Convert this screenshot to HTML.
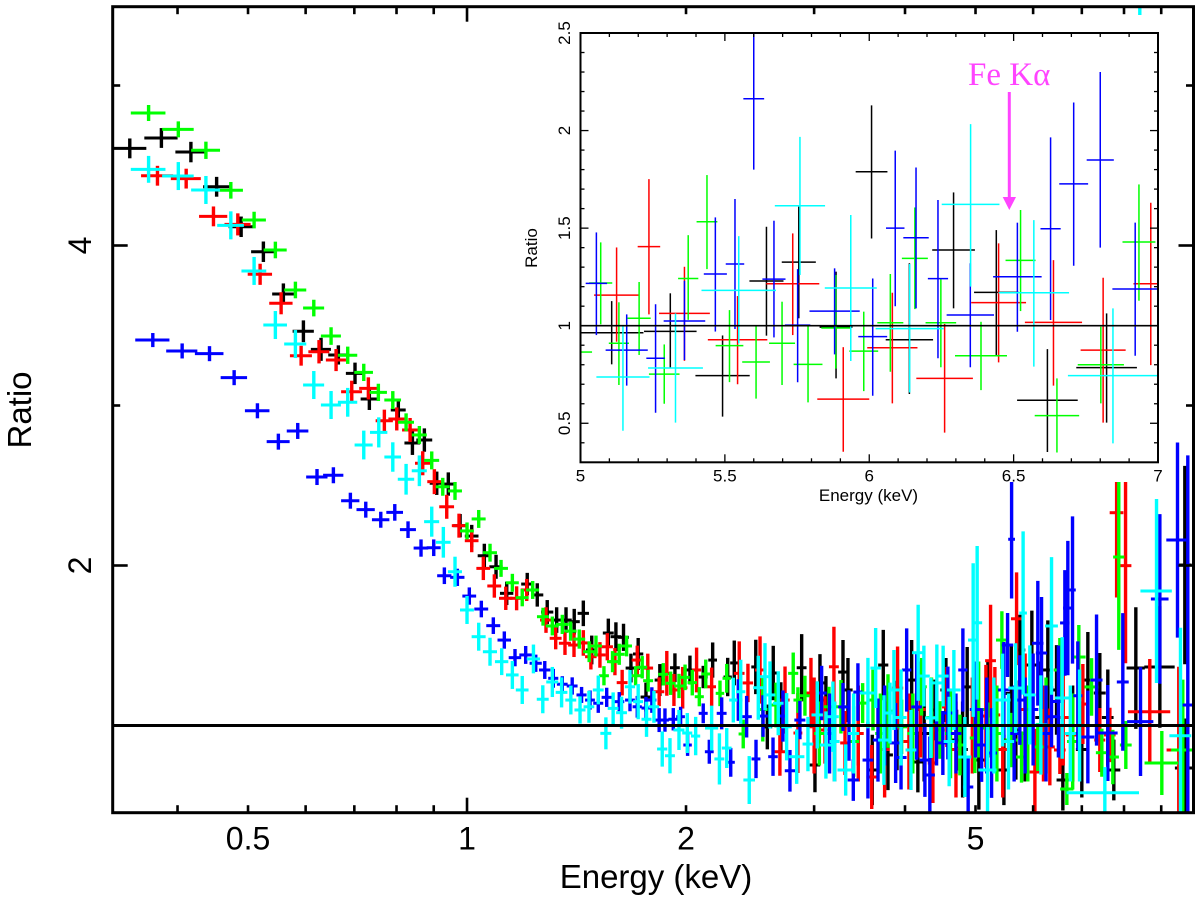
<!DOCTYPE html>
<html lang="en">
<head>
<meta charset="utf-8">
<title>Ratio vs Energy X-ray spectrum</title>
<style>
html,body{margin:0;padding:0;background:#fff;width:1200px;height:901px;overflow:hidden}
svg{display:block}
text{font-family:"Liberation Sans",sans-serif;fill:#000}
</style>
</head>
<body>
<svg id="chart" xmlns="http://www.w3.org/2000/svg" width="1200" height="901" viewBox="0 0 1200 901">
<rect x="0" y="0" width="1200" height="901" fill="#fff"/>
<defs>
<clipPath id="mainClip"><rect x="112.7" y="6.7" width="1080.8" height="806"/></clipPath>
<clipPath id="insetClip"><rect x="580.5" y="33" width="577.5" height="429.3"/></clipPath>
</defs>
<g id="mainData" clip-path="url(#mainClip)"></g>
<line id="mainUnity" stroke="#000" stroke-width="3"/>
<rect x="520" y="15" width="648" height="467" fill="#fff"/>
<g id="mainAxes"></g>
<g id="insetData" clip-path="url(#insetClip)"></g>
<line id="insetUnity" stroke="#000" stroke-width="1.7"/>
<g id="insetAxes"></g>
<text x="656" y="888" font-size="33" text-anchor="middle">Energy (keV)</text>
<text transform="translate(31,410) rotate(-90)" font-size="33" text-anchor="middle">Ratio</text>
<text x="868.5" y="501" font-size="17" text-anchor="middle">Energy (keV)</text>
<text transform="translate(537,248) rotate(-90)" font-size="17" text-anchor="middle">Ratio</text>
<text x="968" y="85" font-size="33" style="font-family:'Liberation Serif',serif;fill:#ff44ff">Fe Kα</text>
<line x1="1009.3" y1="92" x2="1009.3" y2="199" stroke="#ff44ff" stroke-width="3"/>
<polygon points="1002.7,197 1016,197 1009.3,210" fill="#ff44ff"/>
</svg>
<script>
// Main spectrum rows: [energy keV, energy half-width keV, ratio, ratio half-error]
const blackPoints = [
[.3439,.0185,4.607,.062],[.3801,.02,4.672,.062],[.4173,.02,4.584,.064],[.4527,.019,4.367,.062],[.4892,.019,4.117,.064],[.5249,.02,3.961,.064],[.5592,.0195,3.697,.066],[.5958,.02,3.464,.068],[.63,.02,3.351,.072],[.6655,.021,3.316,.06],
[.7015,.02,3.201,.067],[.7341,.02,3.041,.069],[.8046,.019,2.972,.066],[.8413,.021,2.766,.075],[.8737,.022,2.784,.073],[.9086,.02,2.514,.073],[.9425,.02,2.509,.073],[.9783,.021,2.249,.073],[1.015,.022,2.184,.07],[1.0563,.022,2.061,.075],
[1.0962,.023,1.992,.075],[1.1339,.024,1.826,.073],[1.21,.023,1.884,.07],[1.249,.024,1.816,.073],[1.289,.025,1.709,.075],[1.328,.025,1.659,.08],[1.368,.025,1.659,.08],[1.404,.025,1.649,.08],[1.445,.026,1.701,.08],[1.484,.027,1.472,.09],
[1.564,.027,1.578,.09],[1.602,.027,1.555,.09],[1.641,.028,1.551,.085],[1.68,.028,1.359,.09],[1.719,.028,1.447,.1],[1.762,.03,1.178,.09],[1.841,.03,1.284,.1],[1.931,.03,1.361,.09],[2.025,.03,1.347,.09],[2.112,.03,1.303,.07],
[2.176,.03,1.409,.11],[2.282,.03,1.303,.12],[2.33,.03,1.391,.14],[2.494,.035,1.366,.17],[2.587,.04,.991,.14],[2.636,.04,1.328,.17],[2.884,.045,1.361,.21],[3.008,.05,.753,.17],[3.056,.05,1.266,.18],[3.114,.05,1.159,.15],
[3.287,.05,1.334,.2],[3.339,.05,1.222,.2],[3.606,.06,.722,.22],[3.734,.06,1.378,.22],[3.79,.06,.816,.22],[4.085,.07,1.284,.25],[4.166,.07,.772,.19],[4.397,.07,1.097,.19],[4.553,.08,1.222,.2],[4.709,.08,.909,.19],
[4.87,.08,1.241,.25],[5.053,.09,.784,.31],[5.47,.1,.722,.22],[5.681,.1,.972,.31],[5.753,.1,1.472,.22],[5.976,.1,1.378,.34],[6.286,.11,1.347,.31],[6.462,.11,1.222,.28],[6.592,.13,.659,.19],[7.135,.13,1.284,.3],
[7.41,.14,1.203,.25],[7.746,.16,.722,.19],[8.305,.24,1.359,.38],[8.961,.43,1.366,.38],[9.698,.21,2.003,.62],[9.698,.3,.734,.31],
[2.7,.045,1.05,.22],[3.2,.05,.9,.25],[3.45,.06,1,.25],[3.9,.07,1,.28],[4.25,.07,.95,.3],[4.8,.08,.85,.3],[5.2,.09,1.1,.3],[5.6,.1,1.2,.3],[5.85,.1,.95,.3],[6.15,.11,1.05,.35],[6.8,.12,.95,.3],[7,.13,.85,.3],[7.6,.14,1.05,.3]
];
const redPoints = [
[.3754,.019,4.436,.062],[.4111,.0195,4.418,.062],[.4482,.02,4.182,.062],[.4841,.02,4.132,.069],[.5195,.02,3.82,.066],[.5552,.0205,3.639,.069],[.5915,.0206,3.311,.062],[.626,.0208,3.336,.073],[.6607,.021,3.284,.069],[.6943,.023,3.086,.069],
[.7318,.021,3.107,.069],[.7698,.021,2.905,.069],[.8006,.021,2.916,.072],[.8351,.021,2.847,.075],[.8692,.021,2.639,.075],[.9018,.02,2.524,.078],[.9378,.022,2.367,.075],[.975,.022,2.249,.075],[1.015,.022,2.155,.072],[1.053,.023,1.982,.073],
[1.0903,.024,1.872,.073],[1.1305,.024,1.795,.073],[1.17,.025,1.795,.075],[1.208,.023,1.847,.069],[1.284,.024,1.659,.08],[1.324,.025,1.545,.069],[1.3635,.026,1.514,.073],[1.403,.026,1.503,.075],[1.445,.027,1.516,.08],[1.48,.027,1.43,.08],
[1.523,.028,1.441,.08],[1.559,.028,1.492,.085],[1.597,.028,1.399,.085],[1.634,.028,1.268,.08],[1.714,.03,1.409,.09],[1.772,.03,1.359,.09],[1.837,.03,1.211,.09],[1.882,.03,1.326,.14],[1.925,.03,1.222,.1],[1.979,.03,1.236,.13],
[2.068,.03,1.347,.14],[2.169,.03,1.242,.12],[2.367,.04,1.326,.2],[2.433,.04,1.266,.12],[2.528,.04,1.347,.21],[2.692,.045,.836,.15],[2.736,.04,1.159,.21],[2.85,.04,.953,.25],[2.97,.05,1.203,.22],[3.105,.05,.972,.21],
[3.194,.05,1.367,.25],[3.308,.05,.891,.2],[3.6,.06,.678,.2],[3.907,.07,1.234,.26],[4.369,.07,.766,.25],[4.567,.07,1.116,.25],[5.167,.09,1.059,.32],[5.244,.09,1.405,.35],[5.316,.09,1.066,.3],[5.694,.1,1.667,.29],
[6.034,.1,.709,.27],[6.326,.1,.866,.24],[6.53,.12,.847,.15],[6.776,.12,.941,.24],[7.023,.13,1.134,.25],[7.41,.13,.909,.2],[7.65,.14,.941,.17],[7.815,.17,2.33,.53],[8.039,.15,1.999,.61],[8.68,.58,1.086,.33],
[9.514,.36,.847,.52],
[3,.05,1,.3],[3.45,.06,.95,.3],[3.75,.06,.85,.3],[4.05,.07,.9,.3],[4.2,.07,1.1,.3],[4.7,.08,.85,.3],[4.95,.09,1,.3],[5.45,.1,.85,.3],[5.85,.1,1.1,.35],[6.2,.11,.95,.3],[6.6,.12,1.05,.3]
];
const greenPoints = [
[.365,.02,4.828,.05],[.401,.02,4.726,.05],[.4376,.02,4.595,.054],[.4735,.0185,4.345,.052],[.5097,.0194,4.159,.052],[.5452,.0199,3.972,.052],[.5809,.0203,3.722,.052],[.6157,.0205,3.609,.052],[.6503,.0206,3.434,.055],[.6855,.021,3.314,.054],
[.7212,.0213,3.207,.054],[.7553,.0208,3.082,.054],[.7906,.0209,3.034,.056],[.8246,.0209,2.895,.056],[.86,.0205,2.816,.056],[.8943,.0213,2.657,.056],[.9261,.0206,2.492,.056],[.9627,.0214,2.466,.056],[1.0,.022,2.216,.053],[1.0377,.023,2.291,.056],
[1.0755,.0239,2.08,.056],[1.1137,.0247,1.982,.053],[1.1543,.0238,1.892,.056],[1.191,.0245,1.799,.054],[1.231,.0254,1.847,.056],[1.272,.0242,1.68,.056],[1.31,.027,1.622,.059],[1.352,.0279,1.632,.06],[1.388,.0264,1.59,.06],[1.4265,.027,1.54,.06],
[1.472,.028,1.461,.065],[1.504,.0286,1.497,.065],[1.5425,.0244,1.311,.06],[1.585,.0276,1.399,.066],[1.619,.0282,1.445,.066],[1.657,.0286,1.497,.065],[1.705,.027,1.311,.06],[1.741,.0276,1.364,.07],[1.774,.028,1.28,.068],[1.861,.03,1.32,.07],
[1.905,.03,1.264,.073],[1.956,.03,1.247,.076],[1.994,.03,1.301,.08],[2.04,.03,1.268,.08],[2.086,.03,1.18,.06],[2.129,.03,1.322,.09],[2.227,.03,1.201,.08],[2.275,.03,1.295,.09],[2.397,.035,.947,.09],[2.659,.05,1.128,.14],
[2.808,.045,1.326,.13],[2.85,.04,1.159,.08],[2.914,.045,1.186,.125],[3.144,.05,1.117,.125],[3.266,.05,1.117,.167],[3.498,.06,1.14,.125],[3.614,.06,1.159,.19],[3.79,.06,1.09,.23],[3.957,.07,.992,.17],[4.215,.07,1.242,.18],
[4.467,.07,.972,.18],[4.759,.08,.878,.19],[4.99,.08,.922,.22],[5.2,.09,.984,.16],[5.435,.1,1.534,.18],[5.605,.11,.909,.17],[5.784,.1,.803,.16],[6.09,.11,.866,.15],[6.53,.12,1.347,.2],[6.676,.14,.603,.1],
[6.934,.15,1.428,.2],[7.219,.16,1.241,.18],[7.458,.14,.83,.15],[7.722,.15,.803,.17],[7.869,.14,2.053,.58],[8.046,.15,.878,.15],[9.017,.48,.766,.2],[9.636,.35,.847,.44],
[2.55,.04,1.1,.2],[3.05,.05,.95,.2],[3.4,.06,.9,.22],[3.7,.06,.95,.25],[4.1,.07,.95,.25],[4.35,.07,1.05,.25],[4.62,.08,.95,.28],[5.05,.09,1.1,.3],[5.35,.09,.95,.3],[5.9,.1,.95,.3],[6.25,.11,1,.3],[6.8,.12,.9,.3]
];
const bluePoints = [
[.3699,.02,3.409,.044],[.4059,.02,3.341,.047],[.4426,.02,3.324,.047],[.4785,.02,3.174,.047],[.5151,.02,2.967,.047],[.5504,.02,2.774,.05],[.5852,.02,2.841,.05],[.622,.021,2.553,.05],[.6551,.021,2.564,.05],[.6913,.02,2.405,.05],
[.7258,.021,2.349,.05],[.7611,.021,2.286,.05],[.7956,.021,2.332,.052],[.8297,.021,2.224,.052],[.8645,.02,2.109,.054],[.9,.02,2.111,.052],[.9308,.021,1.936,.052],[.9699,.022,1.926,.054],[1.0073,.022,1.809,.054],[1.0463,.023,1.728,.052],
[1.0868,.024,1.624,.052],[1.1253,.024,1.534,.054],[1.164,.023,1.424,.054],[1.204,.024,1.441,.056],[1.243,.024,1.389,.054],[1.279,.023,1.347,.056],[1.314,.021,1.295,.059],[1.352,.023,1.258,.05],[1.395,.024,1.247,.054],[1.437,.023,1.191,.05],
[1.476,.023,1.159,.06],[1.515,.024,1.139,.06],[1.556,.025,1.176,.06],[1.619,.026,1.149,.06],[1.675,.026,1.159,.07],[1.714,.025,1.117,.068],[1.762,.025,1.109,.07],[1.795,.026,1.159,.08],[1.837,.027,1.034,.075],[1.871,.024,1.034,.073],
[1.921,.03,1.039,.07],[1.966,.027,1.055,.062],[2.01,.027,.878,.068],[2.112,.03,1.076,.062],[2.153,.03,.836,.075],[2.239,.035,1.076,.1],[2.304,.03,.77,.09],[2.36,.03,1.159,.13],[2.423,.04,1.055,.13],[2.496,.035,.791,.12],
[2.552,.04,1.059,.13],[2.634,.04,.805,.12],[2.718,.04,1.059,.16],[2.779,.045,.717,.13],[2.868,.05,1.034,.12],[3.072,.05,1.203,.17],[3.287,.05,1.116,.15],[3.396,.06,.659,.13],[3.446,.05,1.209,.18],[3.557,.06,.784,.24],
[3.672,.06,.909,.26],[3.883,.07,.891,.25],[4.021,.06,1.347,.26],[4.15,.07,1.116,.33],[4.26,.07,.784,.23],[4.327,.07,.691,.24],[4.509,.07,.891,.2],[4.581,.08,1.078,.29],[4.804,.07,1.347,.26],[4.885,.08,.616,.19],
[5.097,.09,.878,.23],[5.261,.09,.828,.28],[5.47,.1,1.222,.3],[5.534,.1,1.503,.2],[5.605,.06,2.164,.37],[5.753,.1,1.159,.28],[6.09,.11,1.514,.39],[6.162,.11,1.453,.35],[6.36,.12,1.055,.19],[6.634,.1,1.641,.33],
[6.697,.1,1.734,.42],[6.797,.07,1.847,.46],[6.912,.1,1.186,.34],[7.135,.15,.928,.29],[7.334,.14,1.284,.41],[7.6,.24,.953,.3],[7.97,.15,1.272,.43],[8.429,.35,1.024,.34],[8.961,.25,1.791,.53],[9.476,.33,2.159,.61],
[9.79,.16,1.128,1.56],
[3.15,.05,.95,.25],[3.35,.06,1,.22],[3.75,.06,1,.25],[3.95,.07,.8,.2],[4.42,.07,1,.25],[4.7,.08,.95,.25],[5,.09,1.1,.3],[5.18,.09,1,.3],[5.65,.1,.95,.3],[5.85,.1,1,.3],[6,.1,1.1,.35],[6.25,.11,.95,.3],[6.5,.12,1.15,.35]
];
const cyanPoints = [
[.365,.02,4.476,.084],[.401,.02,4.434,.0875],[.4376,.02,4.347,.0875],[.4735,.02,4.126,.0875],[.5097,.02,3.841,.0875],[.5452,.0204,3.503,.0875],[.5809,.0203,3.384,.0875],[.6157,.0205,3.128,.0875],[.6503,.0206,3.003,.0875],[.6855,.021,3.02,.09],
[.7212,.0206,2.753,.09],[.7563,.0208,2.832,.094],[.7906,.0208,2.678,.092],[.8246,.0214,2.539,.096],[.86,.0205,2.592,.096],[.8943,.0213,2.274,.094],[.9278,.0215,2.145,.096],[.9627,.0214,1.961,.094],[1.0,.022,1.722,.0875],[1.0377,.023,1.555,.0875],
[1.0755,.024,1.461,.0875],[1.116,.0236,1.399,.084],[1.1543,.023,1.316,.0875],[1.191,.024,1.222,.0875],[1.234,.026,1.416,.09],[1.271,.024,1.164,.0875],[1.31,.025,1.272,.094],[1.349,.025,1.207,.094],[1.389,.024,1.159,.09],[1.43,.025,1.097,.085],
[1.471,.025,1.117,.1],[1.515,.026,1.222,.09],[1.552,.027,.951,.1],[1.588,.027,1.107,.1],[1.631,.028,1.08,.1],[1.675,.027,1.242,.105],[1.719,.027,1.149,.11],[1.765,.028,1.039,.11],[1.807,.03,1.117,.1],[1.855,.03,.853,.11],
[1.901,.03,.811,.11],[1.956,.034,.972,.125],[2.008,.032,.953,.125],[2.062,.03,.934,.12],[2.169,.045,.984,.14],[2.223,.035,.791,.16],[2.275,.035,.859,.125],[2.323,.03,1.159,.14],[2.378,.035,1.211,.2],[2.443,.045,.659,.15],
[2.514,.04,1.236,.2],[2.568,.04,1.305,.21],[2.609,.045,1.191,.21],[2.678,.045,1.139,.2],[2.75,.045,.992,.21],[2.839,.07,.805,.17],[2.942,.05,.884,.17],[3.03,.055,1.066,.21],[3.114,.06,.878,.21],[3.184,.06,1.055,.22],
[3.315,.085,.722,.16],[3.557,.09,1.203,.22],[3.645,.06,1.359,.25],[3.742,.07,.909,.28],[3.814,.06,1.078,.19],[3.862,.07,1.222,.25],[4.076,.07,.847,.25],[4.17,.08,1.455,.3],[4.246,.08,1.309,.19],[4.341,.08,1.047,.25],
[4.424,.08,1.266,.24],[4.513,.08,1.309,.19],[4.669,.1,1.222,.25],[4.834,.1,.803,.25],[4.963,.08,1.534,.48],[5.026,.08,1.642,.48],[5.194,.15,.722,.275],[5.447,.14,1.159,.29],[5.676,.13,1.234,.28],[5.813,.07,1.703,.51],
[5.938,.11,1.191,.31],[6.149,.12,1.003,.31],[6.36,.13,1.622,.43],[6.578,.15,1.172,.38],[7.529,.86,.58,.16],[8.41,.1,4.284,1.2],[8.867,.44,1.841,.575],[9.566,.33,.936,.675],
[3.2,.05,.9,.25],[3.4,.06,.95,.25],[3.95,.07,1.05,.3],[4.6,.08,.9,.28],[5.3,.09,1,.3],[5.55,.1,.9,.3],[6.75,.12,.95,.3],[6.95,.13,1,.35]
];
// Inset rows: [energy keV, energy half-width keV, ratio, lower bound, upper bound]
const insetBlack = [
[5.108,.11,.964,.802,1.126],[5.311,.091,.971,.786,1.166],[5.492,.094,.744,.534,.95],[5.644,.059,1.229,.949,1.507],[5.756,.059,1.326,1.038,1.61],[5.885,.057,.993,.73,1.277],[6.008,.055,1.789,1.447,2.129],[6.139,.082,.928,.65,1.32],[6.292,.074,1.388,1.089,1.683],[6.44,.077,1.171,.85,1.49],[6.617,.105,.618,.353,.88],[6.822,.105,.785,.503,1.063]
];
const insetRed = [
[5.125,.078,1.157,.918,1.401],[5.237,.039,1.405,1.058,1.751],[5.36,.088,1.063,.82,1.302],[5.544,.103,.928,.7,1.152],[5.735,.092,1.215,.952,1.473],[5.91,.09,.624,.354,.89],[6.08,.087,.887,.602,1.169],[6.261,.098,.73,.452,1.009],[6.448,.095,1.118,.812,1.422],[6.638,.099,1.017,.693,1.336],[6.81,.078,.875,.503,1.246],[6.975,.06,1.215,.798,1.63]
];
const insetGreen = [
[5,.04,.865,.674,1.055],[5.07,.04,1.219,1.007,1.427],[5.133,.035,.91,.696,1.12],[5.203,.04,1.038,.85,1.224],[5.29,.053,.752,.6,.904],[5.373,.035,1.242,1.03,1.464],[5.438,.036,1.533,1.29,1.772],[5.516,.048,.898,.711,1.08],[5.608,.048,.814,.626,.998],[5.698,.045,.91,.696,1.123],[5.788,.05,.802,.607,1],[5.884,.05,.988,.78,1.26],
[5.981,.05,.87,.665,1.072],[6.073,.045,1.015,.764,1.265],[6.158,.045,1.345,1.085,1.606],[6.248,.053,1.015,.787,1.239],[6.387,.09,.846,.67,1.02],[6.524,.052,1.335,1.075,1.593],[6.65,.077,.539,.35,.73],[6.802,.08,.8,.602,.995],[6.934,.057,1.429,1.128,1.724]
];
const insetBlue = [
[5.055,.037,1.217,.952,1.478],[5.16,.073,.875,.693,1.058],[5.26,.032,.833,.554,1.11],[5.36,.072,1.024,.824,1.23],[5.467,.04,1.265,.97,1.555],[5.535,.032,1.316,.983,1.649],[5.6,.036,2.163,1.8,2.6],[5.67,.04,1.239,.94,1.538],[5.752,.044,1.003,.71,1.29],[5.88,.087,1.075,.853,1.294],
[6.012,.05,.944,.641,1.242],[6.09,.032,1.5,1.1,1.897],[6.162,.044,1.451,1.089,1.811],[6.238,.035,1.241,.833,1.644],[6.35,.082,1.055,.787,1.32],[6.513,.084,1.251,.969,1.528],[6.628,.035,1.497,1.029,1.965],[6.708,.05,1.727,1.307,2.144],[6.8,.047,1.849,1.4,2.3],[6.921,.079,1.188,.846,1.528]
];
const insetCyan = [
[5.147,.092,.737,.462,1.003],[5.329,.095,.783,.503,1.063],[5.548,.129,1.181,.91,1.459],[5.76,.087,1.615,1.26,1.968],[5.936,.09,1.193,.819,1.567],[6.14,.118,.985,.658,1.316],[6.351,.1,1.622,1.2,2.033],[6.57,.122,1.169,.79,1.541],[6.844,.156,.744,.397,1.089]
];
// Axis tick values
const mainXMajor = [1];
const mainXMinor = [.4,.5,.6,.7,.8,.9,2,3,4,5,6,7,8,9];
const mainXLabels = [.5,1,2,5];
const mainYMajor = [2,4];
const mainYMinor = [1,3,5];
const mainYLabels = [2,4];
const insetXMajor = [5,5.5,6,6.5,7];
const insetXLabels = [5,5.5,6,6.5,7];
const insetYMajor = [.5,1,1.5,2,2.5];
const insetYLabels = [.5,1,1.5,2,2.5];
const seriesColors = {black:'#000000',red:'#ff0000',green:'#00ff00',blue:'#0000ff',cyan:'#00ffff'};

const NS = 'http://www.w3.org/2000/svg';
const main = {l:112.7,r:1193.5,t:6.7,b:812.7,xMin:.3258,xMax:9.968,yMin:.455,yMax:5.4925};
const inset = {l:580.5,r:1158,t:33,b:462.3,xMin:5,xMax:7,yMin:.3,yMax:2.5};
const clamp = (v,lo,hi) => Math.max(lo,Math.min(hi,v));
const mainX = e => main.l + (Math.log10(e)-Math.log10(main.xMin))/(Math.log10(main.xMax)-Math.log10(main.xMin))*(main.r-main.l);
const mainY = v => main.b - (v-main.yMin)/(main.yMax-main.yMin)*(main.b-main.t);
const insetX = e => inset.l + (e-inset.xMin)/(inset.xMax-inset.xMin)*(inset.r-inset.l);
const insetY = v => inset.b - (v-inset.yMin)/(inset.yMax-inset.yMin)*(inset.b-inset.t);

function line(parent,x1,y1,x2,y2,color,w){
  const el = document.createElementNS(NS,'line');
  el.setAttribute('x1',x1);el.setAttribute('y1',y1);el.setAttribute('x2',x2);el.setAttribute('y2',y2);
  el.setAttribute('stroke',color);el.setAttribute('stroke-width',w);
  parent.appendChild(el);
  return el;
}
function drawMain(rows,color,name){
  const g = document.createElementNS(NS,'g');
  
  
  rows.forEach(r=>{
    const p = document.createElementNS(NS,'g');
    
    
    line(p,clamp(mainX(r[0]-r[1]),main.l,main.r),mainY(r[2]),clamp(mainX(r[0]+r[1]),main.l,main.r),mainY(r[2]),color,3);
    line(p,mainX(r[0]),clamp(mainY(r[2]+r[3]),main.t,main.b),mainX(r[0]),clamp(mainY(r[2]-r[3]),main.t,main.b),color,3.4);
    g.appendChild(p);
  });
  document.getElementById('mainData').appendChild(g);
}
function drawInset(rows,color,name){
  const g = document.createElementNS(NS,'g');
  
  
  rows.forEach(r=>{
    const p = document.createElementNS(NS,'g');
    
    
    line(p,clamp(insetX(r[0]-r[1]),inset.l,inset.r),insetY(r[2]),clamp(insetX(r[0]+r[1]),inset.l,inset.r),insetY(r[2]),color,1.5);
    line(p,insetX(r[0]),clamp(insetY(r[4]),inset.t,inset.b),insetX(r[0]),clamp(insetY(r[3]),inset.t,inset.b),color,1.5);
    g.appendChild(p);
  });
  document.getElementById('insetData').appendChild(g);
}
drawMain(blackPoints,seriesColors.black,'series-black');
drawMain(redPoints,seriesColors.red,'series-red');
drawMain(greenPoints,seriesColors.green,'series-green');
drawMain(bluePoints,seriesColors.blue,'series-blue');
drawMain(cyanPoints,seriesColors.cyan,'series-cyan');
drawInset(insetBlack,seriesColors.black,'inset-series-black');
drawInset(insetRed,seriesColors.red,'inset-series-red');
drawInset(insetGreen,seriesColors.green,'inset-series-green');
drawInset(insetBlue,seriesColors.blue,'inset-series-blue');
drawInset(insetCyan,seriesColors.cyan,'inset-series-cyan');

const mu = document.getElementById('mainUnity');
mu.setAttribute('x1',main.l);mu.setAttribute('x2',main.r);mu.setAttribute('y1',mainY(1));mu.setAttribute('y2',mainY(1));
const iu = document.getElementById('insetUnity');
iu.setAttribute('x1',inset.l);iu.setAttribute('x2',inset.r);iu.setAttribute('y1',insetY(1));iu.setAttribute('y2',insetY(1));

function frame(parent,b,w,name){
  const el = document.createElementNS(NS,'rect');
  el.setAttribute('x',b.l);el.setAttribute('y',b.t);el.setAttribute('width',b.r-b.l);el.setAttribute('height',b.b-b.t);
  el.setAttribute('fill','none');el.setAttribute('stroke','#000');el.setAttribute('stroke-width',w);
  
  
  parent.appendChild(el);
}
function label(parent,txt,x,y,size,anchor,rot,name){
  const el = document.createElementNS(NS,'text');
  el.textContent = txt;
  el.setAttribute('font-size',size);
  el.setAttribute('text-anchor',anchor);
  if(rot){el.setAttribute('transform','translate('+x+','+y+') rotate(-90)');}
  else{el.setAttribute('x',x);el.setAttribute('y',y);}
  
  
  parent.appendChild(el);
}
// main axes
const ma = document.getElementById('mainAxes');
frame(ma,main,3,'main-plot-frame');
mainXMajor.forEach(v=>{const x=mainX(v);line(ma,x,main.b,x,main.b-15,'#000',2.6);line(ma,x,main.t,x,main.t+15,'#000',2.6);});
mainXMinor.forEach(v=>{const x=mainX(v);line(ma,x,main.b,x,main.b-7.5,'#000',2.6);line(ma,x,main.t,x,main.t+7.5,'#000',2.6);});
mainYMajor.forEach(v=>{const y=mainY(v);line(ma,main.l,y,main.l+15,y,'#000',2.6);line(ma,main.r,y,main.r-15,y,'#000',2.6);});
mainYMinor.forEach(v=>{const y=mainY(v);line(ma,main.l,y,main.l+7.5,y,'#000',2.6);line(ma,main.r,y,main.r-7.5,y,'#000',2.6);});
mainXLabels.forEach(v=>label(ma,String(v),mainX(v),849.3,32,'middle',false,'x-tick-label'));
mainYLabels.forEach(v=>label(ma,String(v),91,mainY(v),32,'middle',true,'y-tick-label'));
// inset axes
const ia = document.getElementById('insetAxes');
frame(ia,inset,2,'inset-plot-frame');
for(let i=0;i<=20;i++){
  const v = inset.xMin + i*.1;
  const len = (i%5===0)?8:4;
  const x = insetX(v);
  line(ia,x,inset.b,x,inset.b-len,'#000',1.3);
  line(ia,x,inset.t,x,inset.t+len,'#000',1.3);
}
for(let i=0;i<=22;i++){
  const v = inset.yMin + i*.1;
  const y = insetY(v);
  const major = insetYMajor.some(m=>Math.abs(m-v)<.001);
  const len = major?8:4;
  line(ia,inset.l,y,inset.l+len,y,'#000',1.3);
  line(ia,inset.r,y,inset.r-len,y,'#000',1.3);
}
insetXLabels.forEach(v=>label(ia,String(v),insetX(v),481.7,17,'middle',false,'inset-x-tick-label'));
insetYLabels.forEach(v=>label(ia,String(v),570,insetY(v),17,'middle',true,'inset-y-tick-label'));
</script>
</body>
</html>
